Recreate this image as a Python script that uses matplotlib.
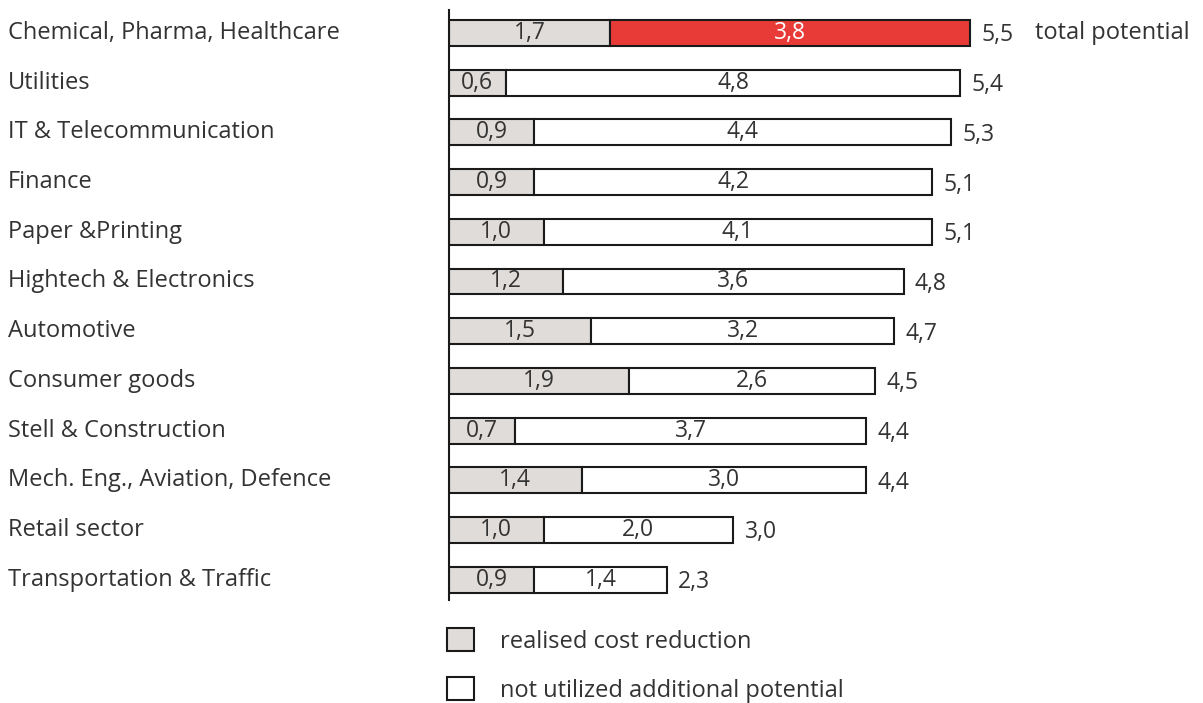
import matplotlib.pyplot as plt
from matplotlib.patches import Patch
from matplotlib.transforms import blended_transform_factory

plt.rcParams['font.family'] = ['Open Sans', 'DejaVu Sans']

categories = ['Chemical, Pharma, Healthcare', 'Utilities', 'IT & Telecommunication',
              'Finance', 'Paper &Printing', 'Hightech & Electronics', 'Automotive',
              'Consumer goods', 'Stell & Construction', 'Mech. Eng., Aviation, Defence',
              'Retail sector', 'Transportation & Traffic']
realised = [1.7, 0.6, 0.9, 0.9, 1.0, 1.2, 1.5, 1.9, 0.7, 1.4, 1.0, 0.9]
additional = [3.8, 4.8, 4.4, 4.2, 4.1, 3.6, 3.2, 2.6, 3.7, 3.0, 2.0, 1.4]
totals = [5.5, 5.4, 5.3, 5.1, 5.1, 4.8, 4.7, 4.5, 4.4, 4.4, 3.0, 2.3]

GREY = '#e0dcd9'
RED = '#e83b38'
EDGE = '#1a1a1a'
TXT = '#333333'
FS = 17


def fmt(v):
    return f'{v:.1f}'.replace('.', ',')


W, H = 1203, 703
fig = plt.figure(figsize=(W / 100, H / 100), dpi=100)
ax = fig.add_axes([449 / W, 0, 1 - 449 / W, 1])

row = 49.7
ax.set_xlim(0, (W - 449) / 94.7)
ax.set_ylim((H - 33) / row, -33 / row)

ys = list(range(len(categories)))
add_colors = [RED] + ['white'] * (len(categories) - 1)

ax.barh(ys, realised, height=0.52, color=GREY, edgecolor=EDGE, linewidth=1.5)
ax.barh(ys, additional, left=realised, height=0.52, color=add_colors,
        edgecolor=EDGE, linewidth=1.5)

for y, r, a, t in zip(ys, realised, additional, totals):
    ax.text(r / 2, y, fmt(r), ha='center', va='center', fontsize=FS - 0.5, color=TXT)
    ax.text(r + a / 2, y, fmt(a), ha='center', va='center', fontsize=FS - 0.5,
            color='white' if y == 0 else TXT)
    ax.text(t + 0.12, y + 0.05, fmt(t), ha='left', va='center', fontsize=FS - 0.5,
            color=TXT)

ax.text(totals[0] + 0.69, 0, 'total potential', ha='left', va='center',
        fontsize=FS, color=TXT)

# category names sit at the left edge of the figure
trans = blended_transform_factory(fig.transFigure, ax.transData)
for y, c in zip(ys, categories):
    ax.text(8 / W, y, c, transform=trans, ha='left', va='center',
            fontsize=FS, color=TXT)

for s in ['top', 'right', 'bottom']:
    ax.spines[s].set_visible(False)
ax.spines['left'].set_linewidth(1.5)
ax.spines['left'].set_color(EDGE)
ax.spines['left'].set_bounds(-23 / row, (600 - 33) / row)
ax.set_xticks([])
ax.set_yticks([])

handles = [Patch(facecolor=GREY, edgecolor=EDGE, linewidth=1.5),
           Patch(facecolor='white', edgecolor=EDGE, linewidth=1.5)]
fig.legend(handles, ['realised cost reduction', 'not utilized additional potential'],
           loc='upper left', bbox_to_anchor=(447 / W, 1 - 628 / H), frameon=False,
           borderpad=0, borderaxespad=0, fontsize=FS, handlelength=1.15,
           handleheight=1.15, handletextpad=1.1, labelspacing=0.98, labelcolor=TXT)

fig.savefig('out.png', dpi=100)
